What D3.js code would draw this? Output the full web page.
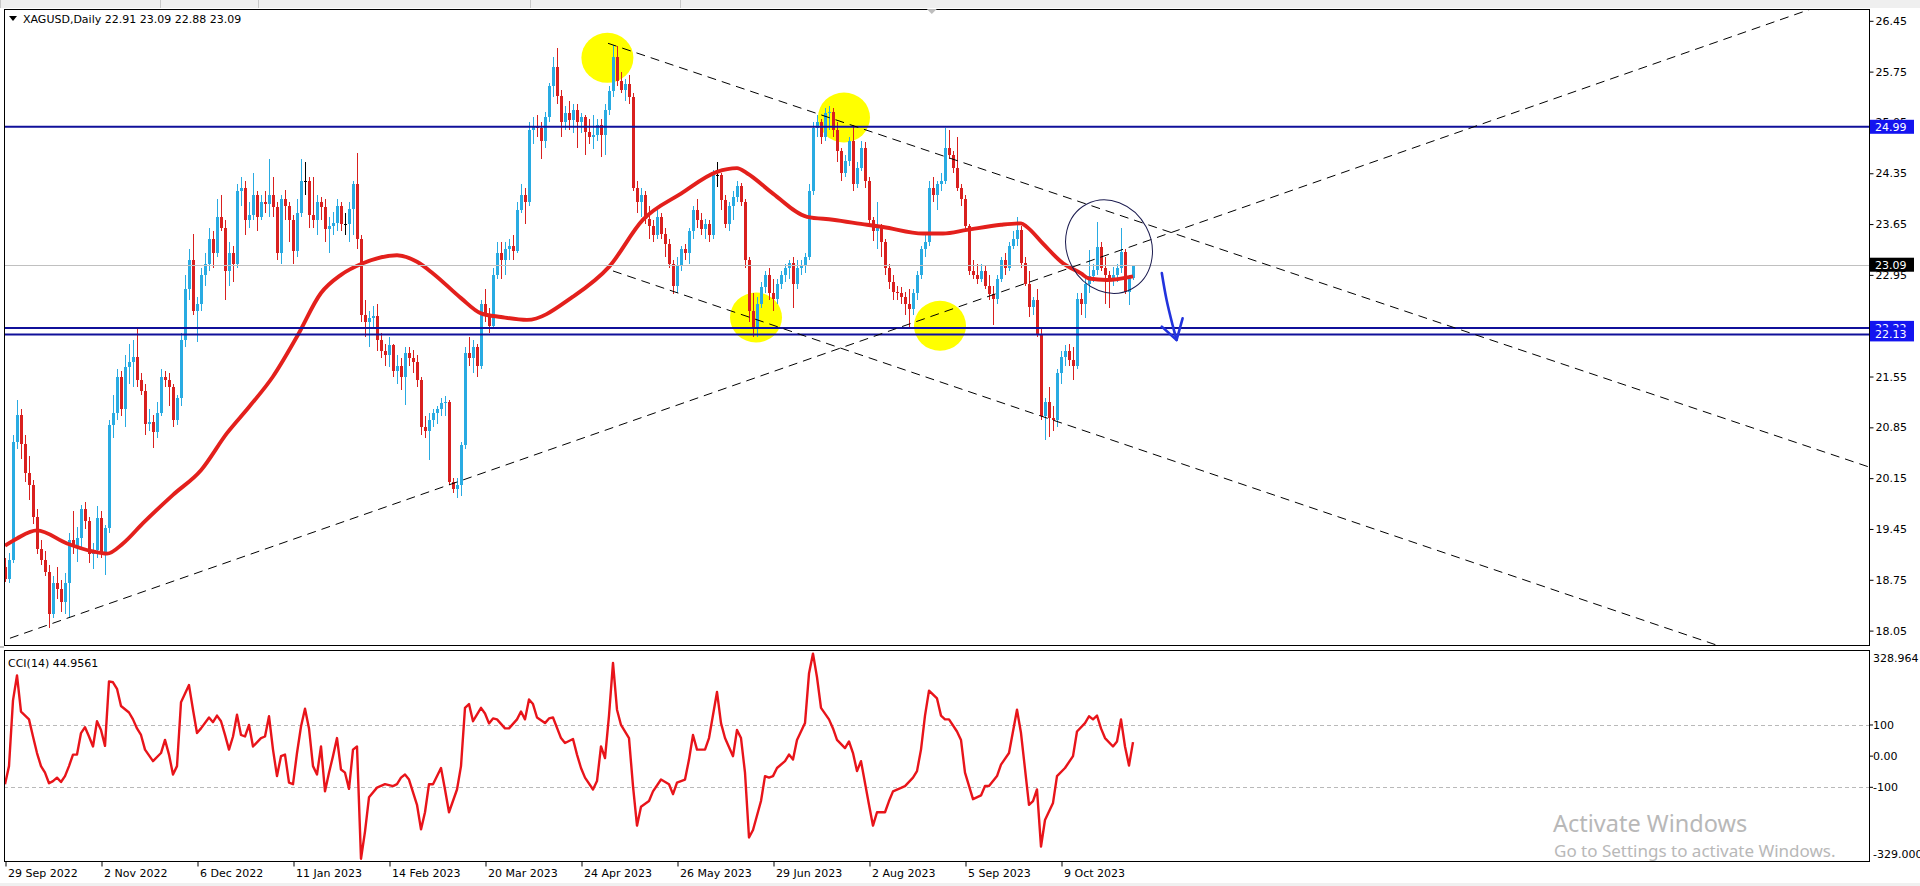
<!DOCTYPE html>
<html><head><meta charset="utf-8">
<script src="https://cdn.jsdelivr.net/npm/d3@7"></script>
<style>
html,body{margin:0;padding:0;background:#fff;overflow:hidden}
svg{display:block}
text{font-family:"DejaVu Sans",sans-serif;font-size:11px;fill:#000}
</style></head><body>
<svg id="c" width="1920" height="886"></svg>
<script>
const symbolTitle = "XAGUSD,Daily  22.91 23.09 22.88 23.09";
const cciTitle = "CCI(14) 44.9561";

const openV = [
18.92,18.76,19.02,20.65,21.02,20.62,20.22,20.05,19.62,19.18,
19.02,18.86,18.28,18.70,18.62,18.44,18.70,19.30,19.20,19.32,
19.72,19.56,19.10,19.16,19.60,19.12,19.46,20.88,21.05,21.55,
21.10,21.68,21.75,21.82,21.50,21.35,20.90,20.92,20.78,21.05,
21.55,21.50,21.40,20.95,21.25,22.05,22.75,23.15,22.45,22.55,
22.95,23.10,23.45,23.25,23.75,23.60,23.00,23.25,23.10,24.10,
24.15,23.70,23.78,24.05,23.75,23.95,23.92,24.05,23.88,23.25,
24.00,23.90,23.70,23.28,23.80,24.25,24.25,23.78,23.70,23.95,
23.88,23.58,23.62,23.66,23.90,23.65,23.65,23.86,24.20,23.45,
22.40,22.30,22.35,22.38,22.05,21.90,21.85,21.98,21.62,21.70,
21.55,21.88,21.80,21.75,21.50,20.85,20.80,20.95,21.05,21.10,
21.18,21.20,20.10,20.00,20.05,20.60,21.88,21.80,21.95,21.70,
22.55,22.40,22.25,22.95,23.25,23.15,23.30,23.35,23.28,23.85,
24.05,23.95,24.95,25.00,24.98,24.80,25.12,25.55,25.82,25.42,
25.05,25.18,25.08,25.22,25.05,25.12,24.92,24.85,24.88,25.02,
24.88,25.22,25.48,25.95,25.62,25.50,25.58,25.40,24.15,23.95,
24.05,23.72,23.62,23.50,23.75,23.52,23.38,23.10,22.80,23.08,
23.30,23.25,23.55,23.85,23.70,23.58,23.65,23.50,24.32,24.32,
23.98,23.65,23.90,24.02,24.18,23.95,23.15,22.45,22.20,22.55,
22.78,22.95,22.70,22.62,22.82,22.95,23.05,23.12,22.82,23.05,
23.08,23.20,24.10,24.98,25.05,24.85,25.18,25.20,24.95,24.65,
24.35,24.52,24.80,24.20,24.42,24.70,24.25,23.70,23.55,23.60,
23.40,23.05,22.85,22.72,22.70,22.65,22.55,22.48,22.70,22.95,
23.30,23.40,24.15,24.05,24.20,24.25,24.70,24.60,24.42,24.15,
24.00,23.62,23.00,22.95,22.90,23.00,22.80,22.68,22.62,22.90,
23.15,23.05,23.35,23.45,23.57,23.11,22.83,22.51,22.60,22.14,
21.00,21.20,20.98,20.95,21.60,21.82,21.90,21.78,21.70,22.62,
22.55,22.82,22.93,23.02,23.34,23.04,22.95,22.88,22.95,23.04,
23.27,22.72,22.91];
const highV = [
19.05,19.12,20.75,21.22,21.10,20.75,20.45,20.12,19.72,19.30,
19.15,18.95,18.80,18.92,18.75,18.85,19.40,19.70,19.48,19.78,
19.82,19.62,19.26,19.76,19.70,19.50,20.95,21.30,21.65,21.62,
21.85,22.00,22.05,22.22,21.60,21.45,21.10,21.02,21.20,21.65,
21.62,21.60,21.45,21.30,22.15,22.95,23.30,23.52,22.65,23.05,
23.25,23.60,23.55,24.00,24.05,23.70,23.40,23.35,24.20,24.30,
24.25,23.95,24.35,24.10,24.05,24.10,24.55,24.30,23.95,24.05,
24.12,23.95,23.78,24.00,24.55,24.50,24.30,24.30,24.05,24.02,
24.00,23.75,23.82,24.00,23.95,23.80,23.95,24.25,24.63,23.50,
22.60,22.45,22.52,22.55,22.15,22.00,22.10,22.00,21.85,21.80,
21.95,21.95,21.92,21.85,21.55,21.00,21.05,21.10,21.15,21.25,
21.28,21.22,20.15,20.15,20.65,21.95,22.10,22.05,22.00,22.60,
22.75,22.50,23.05,23.40,23.40,23.40,23.45,23.50,23.95,24.20,
24.15,25.05,25.12,25.15,25.05,25.20,25.60,25.95,26.08,25.50,
25.28,25.35,25.30,25.30,25.18,25.15,25.10,25.15,25.10,25.10,
25.30,25.55,26.12,26.10,25.75,25.65,25.70,25.45,24.25,24.15,
24.10,23.90,23.70,23.85,23.80,23.60,23.45,23.15,23.20,23.35,
23.38,23.60,23.90,24.00,23.80,23.72,23.70,24.40,24.51,24.35,
24.05,23.95,24.10,24.25,24.22,24.00,23.20,22.70,22.65,22.85,
23.00,23.05,22.90,22.90,23.00,23.10,23.15,23.20,23.15,23.15,
23.25,24.20,25.05,25.15,25.10,25.25,25.28,25.25,25.05,24.70,
24.60,24.85,25.02,24.50,24.80,24.78,24.30,23.75,23.95,23.65,
23.45,23.10,22.95,22.80,22.78,22.72,22.75,22.75,23.00,23.35,
23.50,24.25,24.30,24.25,24.35,24.98,24.95,24.65,24.85,24.20,
24.05,23.65,23.15,23.10,23.10,23.08,22.95,22.80,22.95,23.20,
23.25,23.40,23.55,23.75,23.62,23.20,23.00,22.65,22.75,22.20,
21.25,21.40,21.15,21.65,21.90,21.98,22.00,21.95,22.70,22.70,
22.90,23.29,23.10,23.68,23.40,23.20,23.00,23.06,23.10,23.59,
23.30,22.95,23.09];
const lowV = [
18.72,18.70,18.98,20.55,20.42,20.10,19.85,19.52,19.10,18.95,
18.80,18.08,18.22,18.48,18.30,18.28,18.22,19.10,19.00,19.20,
19.45,18.98,18.90,19.05,19.05,18.82,19.40,20.70,20.95,21.00,
20.85,21.45,21.40,21.40,21.30,20.75,20.80,20.56,20.70,21.00,
21.40,21.15,20.85,20.88,21.15,21.95,22.60,22.40,22.02,22.45,
22.80,23.00,23.05,23.20,23.55,22.60,22.80,22.85,23.05,23.90,
23.50,23.60,23.70,23.55,23.70,23.80,23.75,23.75,23.15,23.10,
23.70,23.40,23.10,23.20,23.75,24.05,23.60,23.60,23.50,23.70,
23.40,23.25,23.50,23.55,23.55,23.50,23.40,23.50,23.30,22.30,
22.10,21.95,22.20,21.90,21.80,21.70,21.68,21.55,21.45,21.36,
21.16,21.70,21.60,21.40,20.75,20.70,20.40,20.85,20.90,21.00,
21.00,20.05,19.95,19.87,19.90,20.55,21.70,21.60,21.55,21.65,
22.30,22.15,22.20,22.90,22.90,22.95,23.15,23.15,23.25,23.80,
23.65,23.90,24.75,24.85,24.55,24.70,25.05,25.40,25.30,24.85,
24.95,24.95,24.90,24.70,24.90,24.60,24.75,24.68,24.80,24.58,
24.60,25.15,25.40,25.55,25.45,25.35,25.30,24.10,23.80,23.75,
23.65,23.45,23.40,23.45,23.45,23.20,23.05,22.68,22.70,23.00,
23.15,23.10,23.45,23.60,23.50,23.45,23.40,23.45,24.16,23.85,
23.60,23.55,23.70,23.95,23.90,23.05,22.30,22.10,22.10,22.50,
22.70,22.60,22.45,22.55,22.75,22.85,22.90,22.50,22.75,22.95,
22.98,23.15,24.05,24.85,24.75,24.80,24.95,24.85,24.50,24.25,
24.30,24.45,24.10,24.15,24.38,24.15,23.65,23.42,23.30,23.20,
22.95,22.75,22.60,22.60,22.55,22.40,22.22,22.40,22.60,22.90,
23.20,23.35,23.95,23.85,24.10,24.20,24.55,24.35,24.10,23.90,
23.55,22.95,22.90,22.82,22.85,22.75,22.60,22.26,22.55,22.85,
22.95,23.00,23.30,23.35,23.05,22.80,22.37,22.40,22.10,20.95,
20.68,20.72,20.80,20.85,21.45,21.70,21.70,21.50,21.65,22.40,
22.35,22.70,22.85,22.95,23.00,22.55,22.49,22.80,22.85,22.98,
22.68,22.54,22.88];
const closeV = [
18.76,19.02,20.65,21.02,20.62,20.22,20.05,19.62,19.18,19.02,
18.86,18.28,18.70,18.62,18.44,18.70,19.30,19.20,19.32,19.72,
19.56,19.10,19.16,19.60,19.12,19.46,20.88,21.05,21.55,21.10,
21.68,21.75,21.82,21.50,21.35,20.90,20.92,20.78,21.05,21.55,
21.50,21.40,20.95,21.25,22.05,22.75,23.15,22.45,22.55,22.95,
23.10,23.45,23.25,23.75,23.60,23.00,23.25,23.10,24.10,24.15,
23.70,23.78,24.05,23.75,23.95,23.92,24.05,23.88,23.25,24.00,
23.90,23.70,23.28,23.80,24.25,24.25,23.78,23.70,23.95,23.88,
23.58,23.62,23.66,23.90,23.65,23.65,23.86,24.20,23.45,22.40,
22.30,22.35,22.38,22.05,21.90,21.85,21.98,21.62,21.70,21.55,
21.88,21.80,21.75,21.50,20.85,20.80,20.95,21.05,21.10,21.18,
21.20,20.10,20.00,20.05,20.60,21.88,21.80,21.95,21.70,22.55,
22.40,22.25,22.95,23.25,23.15,23.30,23.35,23.28,23.85,24.05,
23.95,24.95,25.00,24.98,24.80,25.12,25.55,25.82,25.42,25.05,
25.18,25.08,25.22,25.05,25.12,24.92,24.85,24.88,25.02,24.88,
25.22,25.48,25.95,25.62,25.50,25.58,25.40,24.15,23.95,24.05,
23.72,23.62,23.50,23.75,23.52,23.38,23.10,22.80,23.08,23.30,
23.25,23.55,23.85,23.70,23.58,23.65,23.50,24.32,24.32,23.98,
23.65,23.90,24.02,24.18,23.95,23.15,22.45,22.20,22.55,22.78,
22.95,22.70,22.62,22.82,22.95,23.05,23.12,22.82,23.05,23.08,
23.20,24.10,24.98,25.05,24.85,25.18,25.20,24.95,24.65,24.35,
24.52,24.80,24.20,24.42,24.70,24.25,23.70,23.55,23.60,23.40,
23.05,22.85,22.72,22.70,22.65,22.55,22.48,22.70,22.95,23.30,
23.40,24.15,24.05,24.20,24.25,24.70,24.60,24.42,24.15,24.00,
23.62,23.00,22.95,22.90,23.00,22.80,22.68,22.62,22.90,23.15,
23.05,23.35,23.45,23.57,23.11,22.83,22.51,22.60,22.14,21.00,
21.20,20.98,20.95,21.60,21.82,21.90,21.78,21.70,22.62,22.55,
22.82,22.93,23.02,23.34,23.04,22.95,22.88,22.95,23.04,23.27,
22.72,22.91,23.09];

// moving average (bar index, price)
const maIdx = [0,3,8,15.5,22,25.5,29.5,34.5,42,49,55.5,61,67,73,79,84,89.5,98,103,107,114,119,124,130.5,142,151,159.5,169,178,183,185.5,192,200.5,207,215.5,219.5,229.5,234.5,240.5,249,254,255.5,259.5,264.5,269,271,275.5,282];
const maVal = [19.22,19.32,19.43,19.25,19.14,19.11,19.25,19.53,19.92,20.26,20.77,21.13,21.55,22.10,22.70,22.95,23.11,23.22,23.13,22.97,22.63,22.42,22.37,22.33,22.65,23.06,23.71,24.07,24.37,24.42,24.35,24.07,23.75,23.71,23.64,23.61,23.52,23.52,23.57,23.64,23.66,23.61,23.38,23.11,22.97,22.90,22.88,22.93];

// CCI(14) (bar index, value)
const cciIdx = [0,1,2,3,4,6,7,8,9,10,11,12,13,14,15,16,17,18,19,20,21,22,23,24,25,26,27,28,29,31,32,33,34,35,37,39,40,41,42,43,44,46,47,48,49,51,52,53,54,55,56,57,58,59,60,61,62,64,65,66,67,68,69,70,71,72,73,74,75,76,77,78,79,80,81,82,83,84,85,86,87,88,89,90,91,93,95,97,98,99,100,101,103,104,105,106,107,109,110,111,113,114,115,116,117,119,120,121,122,123,125,126,128,129,130,131,132,133,135,136,137,139,140,142,143,144,145,147,148,149,150,151,152,153,154,156,157,158,159,161,162,164,166,167,168,170,171,172,173,175,176,178,179,180,182,183,184,185,186,187,189,190,191,192,193,195,196,197,198,200,201,202,203,204,206,207,208,210,211,212,213,214,216,217,218,220,221,222,224,225,227,228,229,230,231,233,234,235,236,238,239,240,242,244,245,246,248,249,251,253,254,256,257,258,259,260,262,263,265,267,268,270,271,272,273,274,275,277,278,279,280,281,282];
const cciVal = [-90,-32,179,259,143,118,63,10,-32,-53,-87,-80,-69,-83,-64,-32,5,5,74,93,63,31,112,84,33,240,237,216,161,140,118,89,68,21,-16,10,52,5,-59,-32,173,228,149,74,89,124,109,130,112,68,21,63,133,68,63,100,31,58,63,128,21,-64,0,5,-85,-90,10,95,152,89,-32,-59,31,-113,-53,0,58,-43,-53,-105,21,31,-329,-242,-132,-101,-90,-96,-90,-69,-59,-75,-156,-235,-180,-90,-90,-38,-107,-180,-107,-32,155,167,112,155,137,105,121,118,89,89,118,143,118,182,167,124,106,121,124,58,42,55,5,-38,-69,-107,-80,31,-6,130,299,149,100,58,-96,-223,-162,-144,-113,-75,-90,-122,-85,-75,-11,68,21,21,58,206,106,58,0,84,58,-53,-261,-237,-144,-64,-69,-64,-38,-16,5,-11,52,106,265,328.964,253,155,118,89,52,26,47,10,-48,-16,-156,-223,-180,-180,-144,-113,-102,-96,-69,-48,21,130,210,185,130,118,118,79,52,-53,-138,-126,-96,-96,-64,-27,10,149,74,-156,-144,-107,-290,-205,-150,-64,-38,0,79,106,128,118,130,89,58,31,47,118,31,-30,44.9561];

const tickIdx = [0,24,48,72,96,120,144,168,192,216,240,264];
const tickLabels = ["29 Sep 2022","2 Nov 2022","6 Dec 2022","11 Jan 2023","14 Feb 2023","20 Mar 2023","24 Apr 2023","26 May 2023","29 Jun 2023","2 Aug 2023","5 Sep 2023","9 Oct 2023"];
const priceTicks = [26.45,25.75,25.05,24.35,23.65,22.95,21.55,20.85,20.15,19.45,18.75,18.05];
const levelPrices = [24.99,22.22,22.13];
const bidPrice = 23.09;
const cciLevels = [100,-100];
const cciTicks = [328.964,100,0,-100,-329];
const cciTickLabels = ["328.964","100","0.00","-100","-329.000"];
// trend lines: two anchor points (bar index, price)
const trendA = [[0,17.921],[150.75,26.14],[152,23.004]];
const trendB = [[298.75,23.672],[298.75,23.40],[298.75,20.263]];
const trendRayLeft = [true,false,false];
// highlighted swing points (bar index, price)
const markIdx = [150.6,209.75,187.75,233.75];
const markPrice = [25.94,25.118,22.363,22.249];
const ovalCenter = [276,23.34];
const arrowIdx = [289.2,290.4,292.0,292.9];
const arrowPrice = [22.976,22.604,22.237,22.053];
const arrowHeadIdx = [289.2,292.9,294.4];
const arrowHeadPrice = [22.237,22.053,22.352];

// ---------------- drawing ----------------
const svg = d3.select("#c");
const L=4, R=1869, T=9, B=645, CT=650, CB=861;
const x = d3.scaleLinear().domain([0,282]).range([5,1133]);
const y = d3.scaleLinear().domain([18.05,26.45]).range([630.6,20.8]);
const yc = d3.scaleLinear().domain([-329,328.964]).range([858.7,653.6]);

svg.append("rect").attr("x",0).attr("y",0).attr("width",1920).attr("height",886).attr("fill","#fff");
svg.append("rect").attr("x",0).attr("y",0).attr("width",1920).attr("height",8).attr("fill","#efefef");
[0,160,258,530,680].forEach(v=>svg.append("line").attr("x1",v+0.5).attr("x2",v+0.5).attr("y1",0).attr("y2",8).attr("stroke","#c8c8c8"));
svg.append("rect").attr("x",0).attr("y",883).attr("width",1920).attr("height",3).attr("fill","#f0f0f0");

const defs = svg.append("defs");
defs.append("clipPath").attr("id","mainClip").append("rect").attr("x",L).attr("y",T).attr("width",R-L).attr("height",B-T);
defs.append("clipPath").attr("id","cciClip").append("rect").attr("x",L).attr("y",CT).attr("width",R-L).attr("height",CB-CT);

const gm = svg.append("g").attr("clip-path","url(#mainClip)");

// yellow markers (background objects)
markIdx.forEach((m,k)=>{
  gm.append("ellipse").attr("cx",x(m)).attr("cy",y(markPrice[k])).attr("rx",26).attr("ry",25).attr("fill","#ffff00");
});

// candles
const bull="#29abe2", bear="#d9201f";
const cg = gm.append("g").attr("shape-rendering","crispEdges");
closeV.forEach((c,i)=>{
  const o=openV[i], h=highV[i], l=lowV[i];
  const xi=Math.round(x(i));
  const col = c>o?bull:(c<o?bear:"#000");
  cg.append("rect").attr("x",xi).attr("y",y(h)).attr("width",1).attr("height",Math.max(1,y(l)-y(h))).attr("fill",col);
  const top=y(Math.max(o,c)), bot=y(Math.min(o,c));
  cg.append("rect").attr("x",xi-1).attr("y",top).attr("width",3).attr("height",Math.max(1,bot-top)).attr("fill",col);
});

// moving average
const maPts = maIdx.map((v,k)=>[v,maVal[k]]);
gm.append("path").datum(maPts)
  .attr("d",d3.line().x(d=>x(d[0])).y(d=>y(d[1])).curve(d3.curveMonotoneX))
  .attr("fill","none").attr("stroke","#e3201c").attr("stroke-width",3.9).attr("stroke-linejoin","round");

// bid line and horizontal levels
gm.append("line").attr("x1",L).attr("x2",R).attr("y1",Math.round(y(bidPrice))+0.5).attr("y2",Math.round(y(bidPrice))+0.5).attr("stroke","#c0c0c0");
levelPrices.forEach(p=>{
  gm.append("line").attr("x1",L).attr("x2",R).attr("y1",y(p)).attr("y2",y(p)).attr("stroke","#10109a").attr("stroke-width",2);
});

// trend lines
trendA.forEach((a,k)=>{
  const b=trendB[k];
  const f=i=>a[1]+(b[1]-a[1])*(i-a[0])/(b[0]-a[0]);
  const i0 = trendRayLeft[k]? -20 : a[0];
  const i1 = 700;
  gm.append("line").attr("x1",x(i0)).attr("y1",y(f(i0))).attr("x2",x(i1)).attr("y2",y(f(i1)))
    .attr("stroke","#000").attr("stroke-width",1).attr("stroke-dasharray","9,6");
});

// oval
gm.append("ellipse").attr("cx",0).attr("cy",0).attr("rx",42).attr("ry",48)
  .attr("transform",`translate(${x(ovalCenter[0])},${y(ovalCenter[1])}) rotate(-28)`)
  .attr("fill","none").attr("stroke","#1c1c50").attr("stroke-width",1);

// hand drawn arrow
const arrowPts = arrowIdx.map((v,k)=>[v,arrowPrice[k]]);
gm.append("path").datum(arrowPts)
  .attr("d",d3.line().x(d=>x(d[0])).y(d=>y(d[1])).curve(d3.curveCatmullRom))
  .attr("fill","none").attr("stroke","#2233dd").attr("stroke-width",2.6).attr("stroke-linecap","round");
const headPts = arrowHeadIdx.map((v,k)=>[v,arrowHeadPrice[k]]);
gm.append("path").datum(headPts)
  .attr("d",d3.line().x(d=>x(d[0])).y(d=>y(d[1])))
  .attr("fill","none").attr("stroke","#2233dd").attr("stroke-width",2.6).attr("stroke-linecap","round").attr("stroke-linejoin","round");

// CCI pane
const gc = svg.append("g").attr("clip-path","url(#cciClip)");
cciLevels.forEach(v=>{
  gc.append("line").attr("x1",L).attr("x2",R).attr("y1",Math.round(yc(v))+0.5).attr("y2",Math.round(yc(v))+0.5)
    .attr("stroke","#b9b9b9").attr("stroke-dasharray","4,3");
});
const cciPts = cciIdx.map((v,k)=>[v,cciVal[k]]);
gc.append("path").datum(cciPts)
  .attr("d",d3.line().x(d=>x(d[0])).y(d=>yc(d[1])))
  .attr("fill","none").attr("stroke","#e8141a").attr("stroke-width",2.4).attr("stroke-linejoin","round");

// pane borders
svg.append("rect").attr("x",L+0.5).attr("y",T+0.5).attr("width",R-L).attr("height",B-T).attr("fill","none").attr("stroke","#000");
svg.append("rect").attr("x",L+0.5).attr("y",CT+0.5).attr("width",R-L).attr("height",CB-CT).attr("fill","none").attr("stroke","#000");
svg.append("line").attr("x1",0).attr("x2",L).attr("y1",B+2).attr("y2",B+2).attr("stroke","#888");

// right price axis
const ya = d3.axisRight(y).tickValues(priceTicks).tickFormat(d3.format(".2f")).tickSize(4).tickPadding(2);
const yag = svg.append("g").attr("transform",`translate(${R+0.5},0)`).call(ya);
yag.select(".domain").remove();
yag.selectAll("text").attr("font-family","DejaVu Sans").attr("font-size",11).attr("fill","#000");

// level labels
function tagBox(p, bg){
  const yy=y(p);
  svg.append("rect").attr("x",R+1).attr("y",yy-7).attr("width",44).attr("height",14).attr("fill",bg);
  svg.append("text").attr("x",R+6).attr("y",yy).attr("dy","0.35em").text(d3.format(".2f")(p)).style("fill","#fff");
}
tagBox(levelPrices[0],"#1414f0");
tagBox(bidPrice,"#000");
tagBox(levelPrices[1],"#1414f0");
tagBox(levelPrices[2],"#1414f0");

// CCI axis labels
cciTicks.forEach((v,k)=>{
  let yy=yc(v);
  if(k===0) yy+=5; if(k===cciTicks.length-1) yy-=5;
  if(k>0 && k<cciTicks.length-1) svg.append("line").attr("x1",R).attr("x2",R+4).attr("y1",yc(v)).attr("y2",yc(v)).attr("stroke","#000");
  svg.append("text").attr("x",R+4).attr("y",yy).attr("dy","0.35em").text(cciTickLabels[k]);
});

// time axis
const xa = d3.axisBottom(x).tickValues(tickIdx).tickFormat((d,i)=>tickLabels[i]).tickSize(5).tickPadding(3);
const xag = svg.append("g").attr("transform",`translate(0.5,${CB+0.5})`).call(xa);
xag.select(".domain").remove();
xag.selectAll("text").attr("text-anchor","start").attr("x",2).attr("font-family","DejaVu Sans").attr("font-size",11).attr("fill","#000");

// titles
svg.append("path").attr("d","M9,16 L17,16 L13,21 Z").attr("fill","#000");
svg.append("text").attr("x",23).attr("y",19).attr("dy","0.35em").text(symbolTitle);
svg.append("text").attr("x",8).attr("y",663).attr("dy","0.35em").text(cciTitle);

// shift marker
svg.append("path").attr("d",`M${x(231.7)-5},9 L${x(231.7)+5},9 L${x(231.7)},14 Z`).attr("fill","#bdbdbd");

// watermark
svg.append("text").attr("x",1553).attr("y",832).text("Activate Windows")
  .style("font-family","'Noto Sans',sans-serif").style("font-size","23.5px").style("fill","#b8b8b8");
svg.append("text").attr("x",1554).attr("y",857).text("Go to Settings to activate Windows.")
  .style("font-family","'Noto Sans',sans-serif").style("font-size","17px").style("fill","#b8b8b8");
</script>
</body></html>
